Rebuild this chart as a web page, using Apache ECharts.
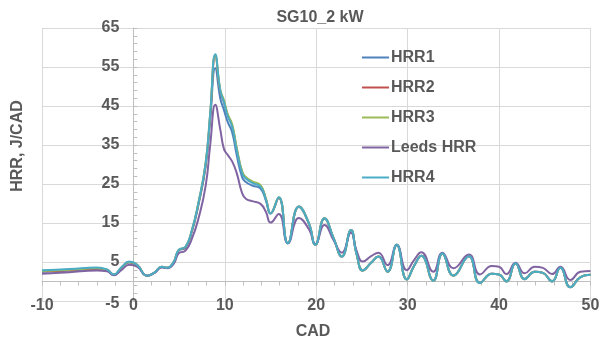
<!DOCTYPE html>
<html>
<head>
<meta charset="utf-8">
<script src="https://cdn.jsdelivr.net/npm/echarts@6/dist/echarts.min.js"></script>
<style>
html,body{margin:0;padding:0;background:#fff;}
#c{width:606px;height:349px;}
</style>
</head>
<body>
<div id="c"></div>
<script>
var cad = [-10, -7, -4, -2.9, -2.15, -1.3, -0.45, 0.4, 1.5, 2.3, 3.1, 3.7, 4.4, 4.95, 5.7, 6.4, 7.1, 7.9, 8.4, 8.96, 9.5, 9.9, 10.3, 10.8, 11.3, 11.9, 12.3, 13.0, 13.9, 14.5, 15.0, 15.9, 16.9, 18.1, 19.2, 19.9, 20.9, 21.9, 22.8, 23.8, 24.4, 25.1, 26.0, 26.8, 27.8, 28.8, 29.9, 30.7, 31.5, 32.8, 33.8, 35.0, 36.7, 37.9, 39.2, 40.0, 40.8, 41.8, 42.8, 43.9, 44.8, 45.8, 46.7, 47.8, 48.9, 50];
var hrr1 = [2.5,2.8,3.2,2.9,1.7,3.5,4.9,4.2,1.5,2.3, 3.7,3.5,4.9,7.9,8.7,12.8,19.5,29.5,41.5,54.7, 47.0,44.0,41.0,38.3,32.4,26.7,25.5,24.6,23.8,20.7, 17.4,21.4,9.8,19.1,14.8,9.4,16.1,11.0,6.4,13.1, 7.2,2.9,4.8,6.4,2.6,9.3,0.6,4.0,6.6,0.3, 7.1,1.6,6.4,-0.3,2.0,1.8,0.1,4.6,0.7,2.5, 2.2,0.1,3.5,-1.4,1.1,1.7];
var hrr2 = [2.6,2.9,3.3,3.0,1.7,3.6,5.0,4.3,1.5,2.3, 3.8,3.5,5.0,8.0,8.8,13.0,19.8,30.0,42.6,57.8, 48.8,46.0,42.8,40.0,34.0,28.0,26.6,25.5,24.5,21.1, 17.5,21.5,9.8,19.2,14.9,9.4,16.2,11.1,6.4,13.2, 7.2,2.8,4.8,6.4,2.5,9.4,0.5,4.0,6.6,0.2, 7.2,1.5,6.5,-0.4,2.0,1.8,0.0,4.7,0.6,2.5, 2.2,0.0,3.5,-1.5,1.1,1.7];
var hrr3 = [2.7,3.0,3.4,3.0,1.8,3.6,5.0,4.3,1.5,2.3, 3.8,3.5,5.0,8.1,8.9,13.2,20.1,30.4,43.2,58.0, 49.2,46.5,43.0,40.3,34.3,28.2,26.8,25.7,24.7,21.2, 17.5,21.6,9.8,19.2,14.9,9.4,16.2,11.1,6.4,13.2, 7.2,2.8,4.8,6.4,2.5,9.4,0.5,4.0,6.6,0.2, 7.2,1.5,6.5,-0.4,2.0,1.8,0.0,4.7,0.6,2.5, 2.2,0.0,3.5,-1.5,1.1,1.7];
var leeds = [2.0,2.4,2.8,2.6,1.6,3.0,4.3,3.8,1.5,2.2, 3.6,3.4,4.5,7.2,7.9,11.0,16.0,24.5,35.0,45.3, 39.0,34.0,32.5,30.8,27.8,22.6,21.2,20.6,19.9,17.8, 15.1,17.3,9.8,16.3,13.4,9.6,14.5,10.6,7.4,12.5, 8.0,5.1,6.5,7.4,4.2,9.4,2.9,5.5,7.5,2.5, 7.4,3.4,6.9,1.8,4.0,3.8,1.9,4.8,2.1,3.8, 3.5,1.9,3.8,0.4,2.5,2.7];
var hrr4 = [2.9,3.2,3.6,3.1,1.8,3.7,5.1,4.3,1.5,2.3, 3.8,3.5,5.0,8.1,8.9,13.2,20.0,30.3,43.0,58.3, 49.0,46.0,42.5,39.7,33.7,27.7,26.4,25.3,24.3,21.0, 17.5,21.6,9.8,19.2,14.9,9.4,16.2,11.1,6.4,13.2, 7.2,2.8,4.8,6.4,2.5,9.4,0.5,4.0,6.6,0.2, 7.2,1.5,6.5,-0.4,2.0,1.8,0.0,4.7,0.6,2.5, 2.2,0.0,3.5,-1.5,1.1,1.7];

var names = ['HRR1','HRR2','HRR3','Leeds HRR','HRR4'];
var colors = ['#4F81BD','#C0504D','#9BBB59','#8064A2','#4BACC6'];
var values = [hrr1, hrr2, hrr3, leeds, hrr4];

var X_MIN = -10, X_MAX = 50;
var FONT = "'Liberation Sans', Arial, sans-serif";
var TXT = '#595959';
var GRID_LEFT = 42, GRID_RIGHT = 15.5;
var plotW = 606 - GRID_LEFT - GRID_RIGHT;
// y axis crosses the x axis at CAD = 0
var yAxisOffset = -plotW * (0 - X_MIN) / (X_MAX - X_MIN);

function pairs(ys){ return cad.map(function(x,i){ return [x, ys[i]]; }); }

var chart = echarts.init(document.getElementById('c'), null, {renderer:'canvas'});
chart.setOption({
  animation: false,
  backgroundColor: '#fff',
  title: {
    text: 'SG10_2 kW', left: 315, top: 5, textAlign: 'center',
    textStyle: {fontFamily: FONT, fontSize: 16, fontWeight: 'bold', color: TXT}
  },
  legend: {
    orient: 'vertical', left: 362, top: 49.5, itemGap: 14, padding: 0,
    itemWidth: 27, itemHeight: 2, icon: 'rect',
    data: names,
    textStyle: {fontFamily: FONT, fontSize: 16, fontWeight: 'bold', color: TXT, padding: [0,0,0,-3]}
  },
  grid: {left: GRID_LEFT, right: GRID_RIGHT, top: 28, bottom: 48, containLabel: false},
  xAxis: [{
    type: 'value', min: X_MIN, max: X_MAX, interval: 10, position: 'bottom',
    axisLine: {show: false, onZero: false},
    axisTick: {show: false},
    axisLabel: {margin: -3, fontFamily: FONT, fontSize: 16, fontWeight: 'bold', color: TXT},
    splitLine: {show: true, lineStyle: {color: '#d9d9d9', width: 1}}
  }, {
    type: 'value', min: X_MIN, max: X_MAX, interval: 10, position: 'bottom',
    axisLine: {show: true, onZero: true, lineStyle: {color: '#bfbfbf', width: 1}},
    axisTick: {show: true, length: 4, lineStyle: {color: '#bfbfbf'}},
    minorTick: {show: true, splitNumber: 5, length: 4, lineStyle: {color: '#bfbfbf'}},
    axisLabel: {show: false},
    splitLine: {show: false}
  }],
  yAxis: {
    type: 'value', min: -5, max: 65, interval: 10, position: 'left', offset: yAxisOffset,
    axisLine: {show: true, onZero: false, lineStyle: {color: '#bfbfbf', width: 1}},
    axisTick: {show: true, inside: true, length: 4, lineStyle: {color: '#bfbfbf'}},
    minorTick: {show: true, splitNumber: 5, length: 4, lineStyle: {color: '#bfbfbf'}},
    axisLabel: {
      margin: 14, fontFamily: FONT, fontSize: 16, fontWeight: 'bold', color: TXT,
      formatter: function(v){ return v === -5 ? '{lo|-5}' : String(v); },
      rich: {lo: {fontFamily: FONT, fontSize: 16, fontWeight: 'bold', color: TXT, padding: [6,0,0,0]}}
    },
    splitLine: {show: true, lineStyle: {color: '#d9d9d9', width: 1}}
  },
  graphic: [{
    type: 'text', x: 18, y: 146, rotation: Math.PI/2,
    style: {text: 'HRR, J/CAD', font: "bold 16px 'Liberation Sans', Arial, sans-serif", fill: TXT, align: 'center', verticalAlign: 'middle'}
  }, {
    type: 'text', x: 313, y: 332,
    style: {text: 'CAD', font: "bold 16px 'Liberation Sans', Arial, sans-serif", fill: TXT, align: 'center', verticalAlign: 'middle'}
  }],
  series: names.map(function(n, i){
    return {
      name: n, type: 'line', xAxisIndex: 0, yAxisIndex: 0,
      data: pairs(values[i]), smooth: 0.5, symbol: 'none',
      lineStyle: {color: colors[i], width: 2},
      itemStyle: {color: colors[i]}
    };
  })
});
</script>
</body>
</html>
